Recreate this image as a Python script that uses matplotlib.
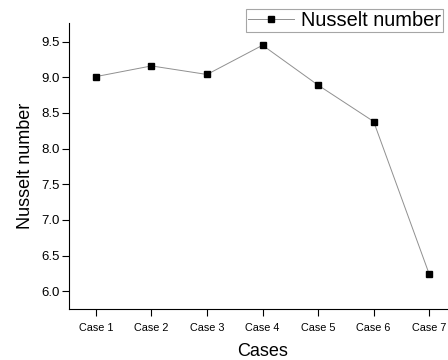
import numpy as np
import matplotlib.pyplot as plt

cases = ["Case 1", "Case 2", "Case 3", "Case 4", "Case 5", "Case 6", "Case 7"]
nusselt = [9.01, 9.16, 9.04, 9.45, 8.89, 8.38, 6.24]

plt.rcParams["font.family"] = ["Liberation Sans", "DejaVu Sans"]

fig = plt.figure(figsize=(4.48, 3.6), dpi=100)
ax = fig.add_axes([0.154, 0.1417, 0.866, 0.794])

x = np.arange(1, len(cases) + 1)
ax.plot(x, nusselt, color="#909090", lw=0.7, marker="s", ms=4.8,
        mfc="black", mec="black", label="Nusselt number")

ax.set_xlim(0.515, 7.5)
ax.set_ylim(5.75, 9.76)
ax.set_xticks(x)
ax.set_xticklabels(cases, fontsize=7.8)
ax.set_yticks([6.0, 6.5, 7.0, 7.5, 8.0, 8.5, 9.0, 9.5])
ax.set_yticklabels(["6.0", "6.5", "7.0", "7.5", "8.0", "8.5", "9.0", "9.5"], fontsize=9.5)
ax.tick_params(axis="both", direction="out", length=5, width=0.8)
ax.tick_params(axis="x", pad=5)
ax.tick_params(axis="y", pad=2)

ax.spines["top"].set_visible(False)
ax.spines["right"].set_visible(False)

ax.set_xlabel("Cases", fontsize=13, labelpad=7)
ax.set_ylabel("Nusselt number", fontsize=13, labelpad=5)

leg = ax.legend(loc="upper left", bbox_to_anchor=(246 / 448, 1 - 9 / 360),
                bbox_transform=fig.transFigure, fontsize=14.4, frameon=True,
                fancybox=False, edgecolor="#909090", borderpad=0.1,
                handlelength=2.3, handletextpad=0.35, borderaxespad=0,
                markerscale=0.8)
leg.get_frame().set_linewidth(0.8)

fig.savefig("out.png", dpi=100)
